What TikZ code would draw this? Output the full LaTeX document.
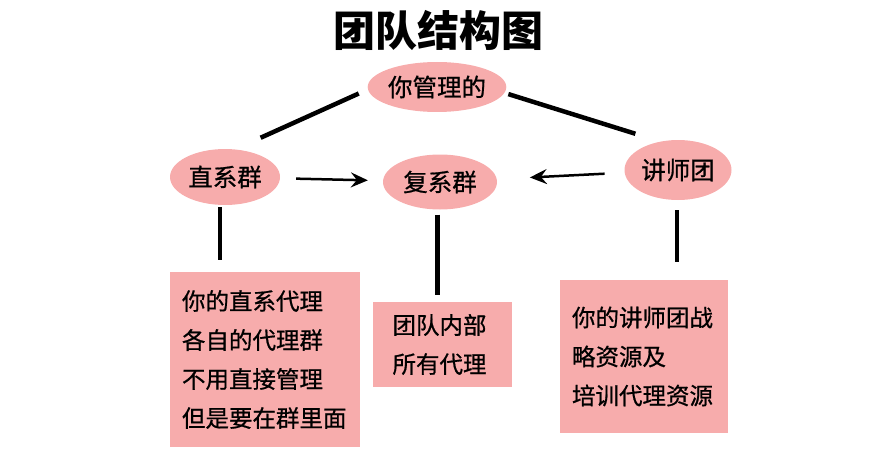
\documentclass[tikz,border=0pt]{standalone}
\usepackage{fontspec}
\setmainfont{Noto Sans CJK SC}
\newfontfamily\cjkmed{Noto Sans CJK SC}[FakeBold=0.7]
\usepackage{tikz}
\usetikzlibrary{arrows.meta, calc, positioning, shapes, shapes.geometric}

\definecolor{blush}{RGB}{247,172,172}

\tikzset{
  group/.style   = {ellipse, fill=blush, inner sep=0pt, font=\cjkmed\fontsize{24.5}{28}\selectfont},
  notebox/.style = {rectangle, fill=blush, align=left, inner sep=0pt,
                    font=\cjkmed\fontsize{23.5}{39}\selectfont},
  link/.style    = {black, line width=4.5pt},
  flow/.style    = {black, line width=2.5pt, -{Stealth[length=17pt,width=15pt,inset=6pt]}}
}

\begin{document}
\begin{tikzpicture}[x=1pt, y=-1pt]
      % Page, for reference
      \useasboundingbox (0,0) rectangle (893,468);

      % Title
      \node (title) at (438,30) {\fontsize{42}{48}\selectfont\bfseries 团队结构图};

      % Groups
      \node[group, minimum width=120pt, minimum height=50pt] (manage)   at (437,87)  {你管理的};
      \node[group, minimum width=110pt, minimum height=56pt] (direct)   at (225,177) {直系群};
      \node[group, minimum width=114pt, minimum height=55pt] (compound) at (440,182) {复系群};
      \node[group, minimum width=107pt, minimum height=60pt] (teacher)  at (678,170) {讲师团};

      % Notes under the groups
      \node[notebox, minimum width=190pt, minimum height=175pt, text width=166pt] (directnote)   at (265,359.5)
           {你的直系代理\\各自的代理群\\不用直接管理\\但是要在群里面};
      \node[notebox, minimum width=139pt, minimum height=85pt,  text width=100pt] (compoundnote) at (442.5,344.5)
           {团队内部\\所有代理};
      \node[notebox, minimum width=168pt, minimum height=153pt, text width=144pt] (teachernote)  at (644,356.5)
           {你的讲师团战\\略资源及\\培训代理资源};

      % Links from the top
      \draw[link, shorten <=10pt, shorten >=28pt] (manage.182) -- (direct.70);
      \draw[link, shorten <=4pt,  shorten >=26pt] (manage.-5)  -- (teacher.122);

      % Arrows into the middle
      \draw[flow, shorten <=16pt, shorten >=15pt] (direct)  -- (compound);
      \draw[flow, shorten <=20pt, shorten >=33pt] (teacher) -- (compound);

      % Stems down to the notes
      \draw[link, shorten <=2pt,  shorten >=12pt] (direct.-100)  -- (direct.-100 |- directnote.north);
      \draw[link, shorten <=5pt,  shorten >=7pt]  (compound.-95) -- (compound.-95 |- compoundnote.north);
      \draw[link, shorten <=10pt, shorten >=18pt] (teacher.-92)  -- (teacher.-92 |- teachernote.north);
\end{tikzpicture}
\end{document}
